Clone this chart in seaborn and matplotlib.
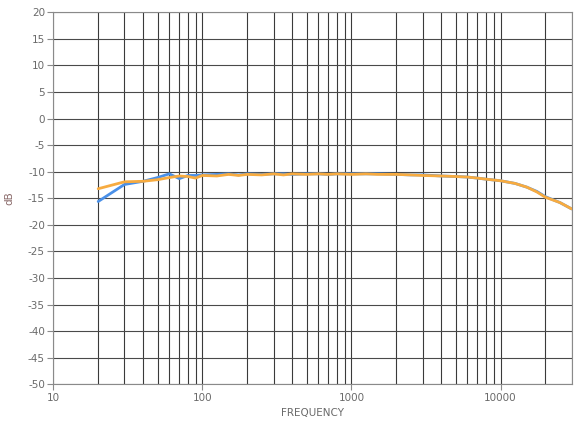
import matplotlib
matplotlib.use("Agg")
import matplotlib.pyplot as plt
import matplotlib.ticker as mticker
import seaborn as sns
import pandas as pd
import numpy as np

freqs = [20, 30, 40, 50, 60, 70, 80, 90, 100, 125, 150, 175, 200, 250, 300, 350,
         400, 500, 600, 700, 800, 1000, 1250, 1500, 2000, 2500, 3000, 4000, 5000,
         6000, 7000, 8000, 10000, 12500, 15000, 17500, 20000, 25000, 30000]
blue_db = [-15.6, -12.4, -11.8, -11.1, -10.4, -11.3, -10.7, -10.7, -10.6, -10.5,
           -10.4, -10.6, -10.4, -10.5, -10.4, -10.4, -10.5, -10.4, -10.4, -10.5,
           -10.4, -10.4, -10.4, -10.4, -10.5, -10.6, -10.6, -10.8, -10.9, -11.0,
           -11.2, -11.4, -11.7, -12.2, -12.9, -13.7, -14.7, -15.8, -17.0]
orange_db = [-13.2, -11.9, -11.8, -11.5, -11.1, -10.8, -10.9, -11.2, -10.7, -10.8,
             -10.5, -10.7, -10.5, -10.6, -10.4, -10.6, -10.4, -10.5, -10.4, -10.5,
             -10.4, -10.5, -10.4, -10.5, -10.5, -10.6, -10.7, -10.8, -10.9, -11.0,
             -11.2, -11.4, -11.7, -12.2, -12.9, -13.8, -14.8, -15.8, -17.0]
series_names = ["A", "B"]
x_ticks = [10, 100, 1000, 10000]
y_ticks = list(range(-50, 25, 5))

df = pd.concat([
    pd.DataFrame({"freq": freqs, "db": blue_db, "series": series_names[0]}),
    pd.DataFrame({"freq": freqs, "db": orange_db, "series": series_names[1]}),
])

sns.set_theme(style="white")
plt.rcParams["font.family"] = ["DejaVu Sans"]
plt.rcParams["axes.unicode_minus"] = False

fig = plt.figure(figsize=(5.8, 4.23), dpi=100)
ax = fig.add_axes([53.3 / 580, 1 - 384.3 / 423, (571.7 - 53.3) / 580, (384.3 - 12.3) / 423])

sns.lineplot(data=df, x="freq", y="db", hue="series",
             palette={"A": "#4a90e8", "B": "#f7ab40"},
             linewidth=2.0, legend=False, ax=ax, zorder=3)

ax.set_xscale("log")
ax.set_xlim(10, 30000)
ax.set_ylim(-50, 20)
ax.set_xticks(x_ticks)
ax.xaxis.set_major_formatter(mticker.FuncFormatter(lambda v, p: f"{int(v)}"))
ax.xaxis.set_minor_locator(mticker.LogLocator(base=10, subs=np.arange(2, 10)))
ax.xaxis.set_minor_formatter(mticker.NullFormatter())
ax.set_yticks(y_ticks)

ax.grid(True, which="both", axis="x", color="#3a3a3a", linewidth=0.8)
ax.grid(True, which="major", axis="y", color="#4a4a4a", linewidth=0.8)

for s in ax.spines.values():
    s.set_color("#8a8a8a")
    s.set_linewidth(0.8)

ax.tick_params(axis="both", which="major", labelsize=7.5, labelcolor="#6a6a6a",
               color="#8a8a8a", length=4, width=0.8, direction="out",
               bottom=True, left=True, pad=2)
ax.tick_params(axis="x", which="minor", bottom=False)

ax.set_xlabel("FREQUENCY", fontsize=7.5, color="#6a6a6a", labelpad=4)
ax.set_ylabel("dB", fontsize=7.5, color="#8a6a6a", labelpad=10)

fig.savefig("out.png", dpi=100)
